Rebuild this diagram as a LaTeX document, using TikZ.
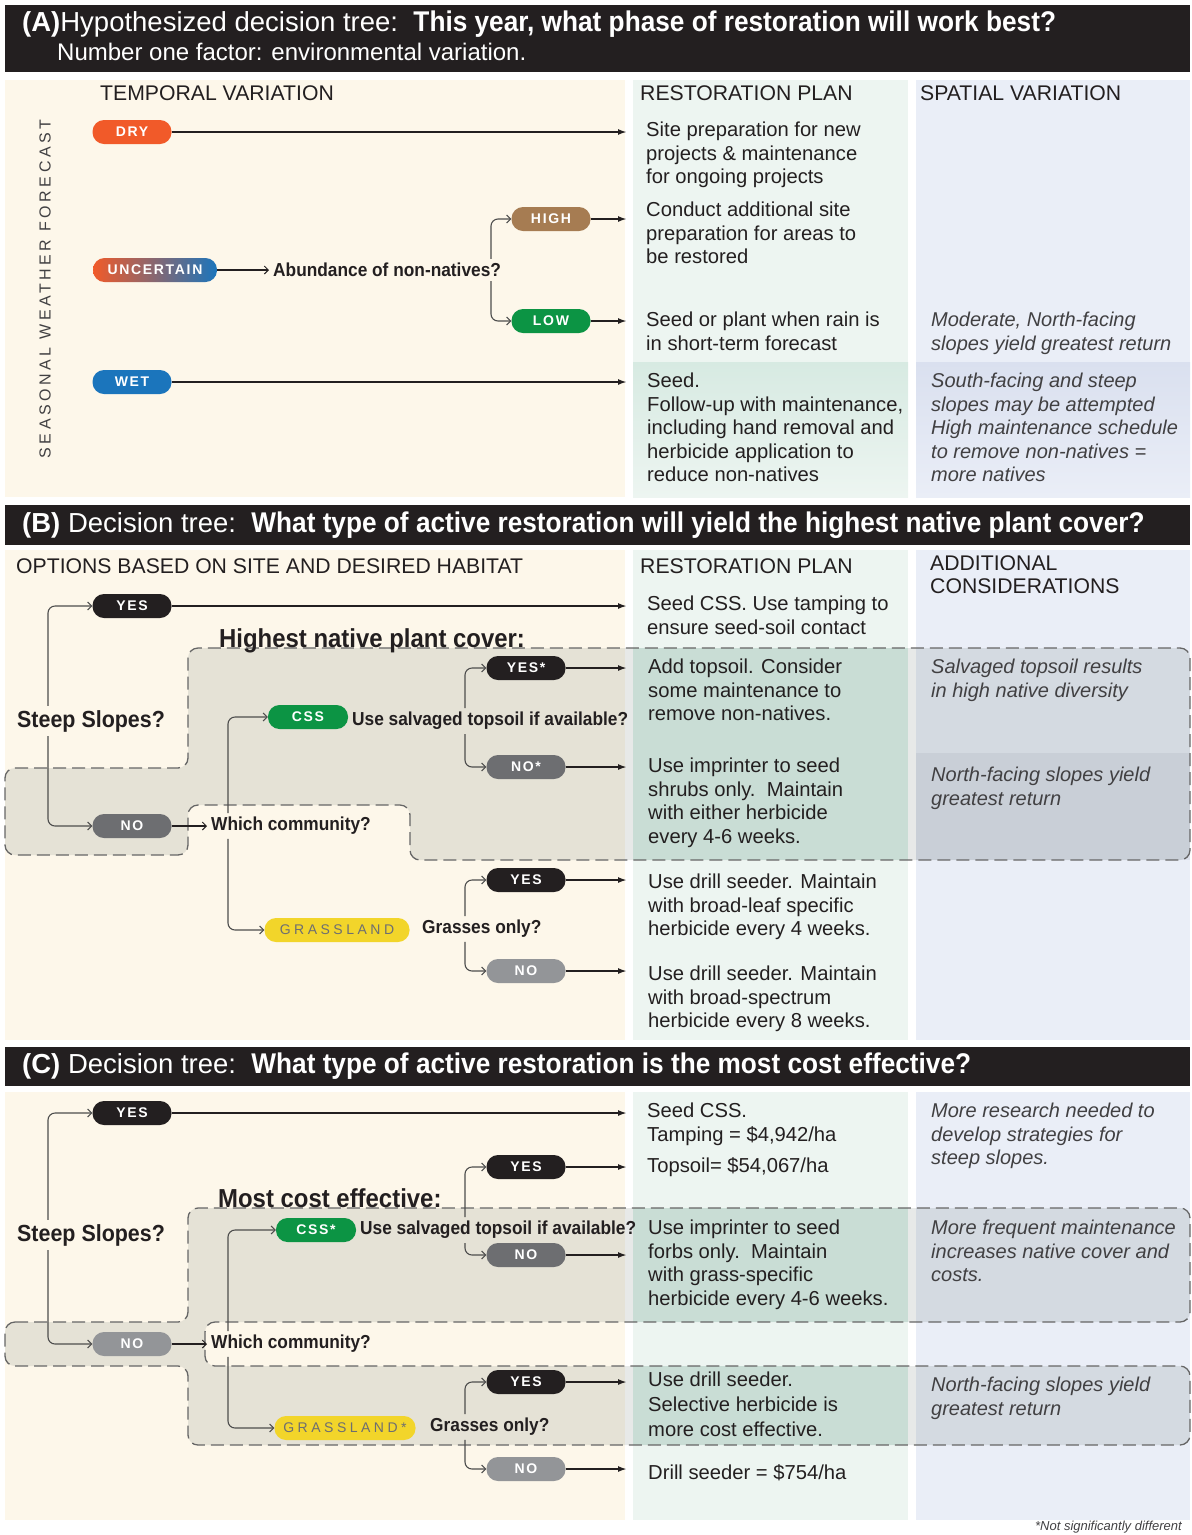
\documentclass[tikz,border=0pt]{standalone}
\usepackage{fontspec}
\setmainfont{Liberation Sans}
\newfontfamily\condfont[FakeStretch=0.92]{Liberation Sans}
\newfontfamily\pillfont[LetterSpace=12]{Liberation Sans}
\newfontfamily\grassfont[LetterSpace=25]{Liberation Sans}
\newfontfamily\spacedfont[LetterSpace=22]{Liberation Sans}
\usetikzlibrary{arrows.meta,positioning}

\definecolor{barblack}{HTML}{231F20}
\definecolor{cream}{HTML}{FDF7EA}
\definecolor{mintcol}{HTML}{EDF5F1}
\definecolor{mintdark}{HTML}{D7EAE2}
\definecolor{mintband}{HTML}{DCF1E9}
\definecolor{bluecol}{HTML}{EAEEF7}
\definecolor{bluedark}{HTML}{DAE0EF}
\definecolor{bandblue}{HTML}{DDE1EC}
\definecolor{drycol}{HTML}{F15A29}
\definecolor{wetcol}{HTML}{1B75BC}
\definecolor{highcol}{HTML}{A67C52}
\definecolor{greencol}{HTML}{0C9444}
\definecolor{darkpill}{HTML}{6D6E71}
\definecolor{lightpill}{HTML}{939598}
\definecolor{sunyellow}{HTML}{F2D52A}
\definecolor{regionfill}{HTML}{5D6B65}
\definecolor{dashgray}{HTML}{666666}
\definecolor{linegray}{HTML}{4D4D4D}
\definecolor{textgray}{HTML}{414042}

\begin{document}
\begin{tikzpicture}[
  x=1pt, y=-1pt,
  pill/.style={rectangle, rounded corners=11.5pt, minimum height=24pt,
               minimum width=79pt, inner xsep=8pt, inner ysep=0pt, text=white,
               font=\pillfont\bfseries\fontsize{14}{14}\selectfont},
  grasspill/.style={pill, fill=sunyellow, text=darkpill,
                    font=\grassfont\fontsize{14}{14}\selectfont},
  question/.style={anchor=west, inner sep=4pt, text=barblack,
                   font=\condfont\bfseries\fontsize{18.8}{20}\selectfont},
  bigquestion/.style={question, font=\condfont\bfseries\fontsize{23.3}{25}\selectfont},
  regiontitle/.style={anchor=base west, inner sep=0pt, text=barblack,
                      font=\condfont\bfseries\fontsize{26}{28}\selectfont},
  plan/.style={anchor=north west, inner sep=0pt, align=left, text=barblack,
               font=\fontsize{20.2}{23.5}\selectfont},
  consider/.style={plan, text=textgray, font=\itshape\fontsize{20}{23.5}\selectfont},
  colhead/.style={anchor=north west, inner sep=0pt, align=left, text=barblack,
                  font=\fontsize{21.2}{23.5}\selectfont},
  titletext/.style={anchor=west, inner sep=0pt, text=white,
                    font=\fontsize{27.5}{30}\selectfont},
  titlebold/.style={font=\condfont\bfseries\fontsize{28.5}{30}\selectfont},
  longarrow/.style={line width=2pt, draw=barblack, -{Latex[length=9pt,width=6pt]}},
  feed/.style={line width=2pt, draw=barblack,
               -{Straight Barb[length=4pt,width=8pt,line width=1pt]}},
  branch/.style={line width=1.1pt, draw=linegray, rounded corners=7pt,
                 -{Straight Barb[length=4pt,width=8pt,line width=1pt]}},
  region/.style={fill=regionfill, fill opacity=0.15, draw=dashgray, line width=1.3pt,
                 dash pattern=on 13pt off 6pt, rounded corners=10pt}
]
\useasboundingbox (0,0) rectangle (1192,1535);

% backgrounds
\fill[barblack] (5,5) rectangle (1190,72);
\fill[cream] (5,80) rectangle (625,497);
\fill[mintcol] (633,80) rectangle (908,497);
\fill[bluecol] (916,80) rectangle (1190,497);
\shade[top color=mintdark, bottom color=mintcol] (633,362) rectangle (908,497);
\shade[top color=bluedark, bottom color=bluecol] (916,362) rectangle (1190,497);

\fill[barblack] (5,505) rectangle (1190,545);
\fill[cream] (5,550) rectangle (625,1040);
\fill[mintcol] (633,550) rectangle (908,1040);
\fill[bluecol] (916,550) rectangle (1190,1040);
\fill[mintband] (633,648) rectangle (908,860);
\fill[bandblue] (916,753) rectangle (1190,860);

\fill[barblack] (5,1047) rectangle (1190,1086);
\fill[cream] (5,1092) rectangle (625,1520);
\fill[mintcol] (633,1092) rectangle (908,1520);
\fill[bluecol] (916,1092) rectangle (1190,1520);
\fill[mintband] (633,1208) rectangle (908,1322);
\fill[mintband] (633,1366) rectangle (908,1445);

% shaded regions
\path[region] (5,768) -- (188,768) -- (188,648) -- (1190,648) -- (1190,860)
  -- (410,860) -- (410,805) -- (188,805) -- (188,855) -- (5,855) -- cycle;
\path[region] (5,1322) -- (188,1322) -- (188,1208) -- (1190,1208) -- (1190,1322)
  -- (205,1322) -- (205,1366) -- (1190,1366) -- (1190,1445) -- (188,1445)
  -- (188,1366) -- (5,1366) -- cycle;

\coordinate (colend) at (627,0);
\coordinate (spA) at (491,0);
\coordinate (spL) at (48,0);
\coordinate (spW) at (228,0);
\coordinate (spR) at (465,0);

% (A)
\node[titletext] (titleA) at (22,24)
  {\textbf{(A)}Hypothesized decision tree:\ \ {\condfont\bfseries\fontsize{28.5}{30}\selectfont This year, what phase of restoration will work best?}};
\node[titletext, font=\fontsize{24}{26}\selectfont] (subA) at (57,52)
  {Number one factor: environmental variation.};
\node[colhead] (tempo) at (100,85) {TEMPORAL VARIATION};
\node[colhead] (planA) at (640,85) {RESTORATION PLAN};
\node[colhead] (spatial) at (920,85) {SPATIAL VARIATION};
\node[rotate=90, inner sep=0pt, text=textgray,
      font=\spacedfont\fontsize{16}{16}\selectfont] (season) at (45,289)
  {SEASONAL WEATHER FORECAST};

\node[pill, fill=drycol] (dry) at (132,132) {DRY};
\node[pill, left color=drycol, middle color=drycol!60!wetcol, right color=wetcol,
      minimum width=124pt] (unc) at (155,270) {UNCERTAIN};
\node[pill, fill=wetcol] (wet) at (132,382) {WET};
\node[pill, fill=highcol] (hi) at (551,219) {HIGH};
\node[pill, fill=greencol] (lo) at (551,321) {LOW};
\node[question] (abund) at (269,270) {Abundance of non-natives?};

\node[plan] (a1) at (646,122) {Site preparation for new\\projects \& maintenance\\for ongoing projects};
\node[plan] (a2) at (646,202) {Conduct additional site\\preparation for areas to\\be restored};
\node[plan] (a3) at (646,312) {Seed or plant when rain is\\in short-term forecast};
\node[plan] (a4) at (647,373) {Seed.\\Follow-up with maintenance,\\including hand removal and\\herbicide application to\\reduce non-natives};
\node[consider] (s1) at (931,312) {Moderate, North-facing\\slopes yield greatest return};
\node[consider] (s2) at (931,373) {South-facing and steep\\slopes may be attempted\\High maintenance schedule\\to remove non-natives =\\more natives};

\draw[longarrow] (dry.east) -- (dry.east -| colend);
\draw[longarrow] (wet.east) -- (wet.east -| colend);
\draw[longarrow] (hi.east) -- (hi.east -| colend);
\draw[longarrow] (lo.east) -- (lo.east -| colend);
\draw[feed] (unc.east) -- (abund.west);
\draw[branch] (abund.north -| spA) |- (hi.west);
\draw[branch] (abund.south -| spA) |- (lo.west);

% (B)
\node[titletext] (titleB) at (22,525)
  {\textbf{(B)} Decision tree:\ \ {\condfont\bfseries\fontsize{28.5}{30}\selectfont What type of active restoration will yield the highest native plant cover?}};
\node[colhead] (optB) at (16,558) {OPTIONS BASED ON SITE AND DESIRED HABITAT};
\node[colhead] (planB) at (640,558) {RESTORATION PLAN};
\node[colhead] (addB) at (930,555) {ADDITIONAL\\CONSIDERATIONS};
\node[regiontitle] (highB) at (219,647) {Highest native plant cover:};

\node[bigquestion] (steepB) at (13,721) {Steep Slopes?};
\node[pill, fill=barblack] (yesB) at (132,606) {YES};
\node[pill, fill=darkpill] (noB) at (132,826) {NO};
\node[question] (whichB) at (207,826) {Which community?};
\node[pill, fill=greencol, minimum width=80pt] (cssB) at (308,717) {CSS};
\node[grasspill, minimum width=145pt] (grassB) at (337,930) {GRASSLAND};
\node[question, inner xsep=1pt] (topsB) at (351,721) {Use salvaged topsoil if available?};
\node[question] (grassesB) at (418,929) {Grasses only?};
\node[pill, fill=barblack] (yesSB) at (526,668) {YES*};
\node[pill, fill=darkpill] (noSB) at (526,767) {NO*};
\node[pill, fill=barblack] (yesGB) at (526,880) {YES};
\node[pill, fill=lightpill] (noGB) at (526,971) {NO};

\node[plan] (b1) at (647,596) {Seed CSS. Use tamping to\\ensure seed-soil contact};
\node[plan] (b2) at (648,659) {Add topsoil. Consider\\some maintenance to\\remove non-natives.};
\node[plan] (b3) at (648,758) {Use imprinter to seed\\shrubs only.\ \ Maintain\\with either herbicide\\every 4-6 weeks.};
\node[plan] (b4) at (648,874) {Use drill seeder. Maintain\\with broad-leaf specific\\herbicide every 4 weeks.};
\node[plan] (b5) at (648,966) {Use drill seeder. Maintain\\with broad-spectrum\\herbicide every 8 weeks.};
\node[consider] (c1) at (931,659) {Salvaged topsoil results\\in high native diversity};
\node[consider] (c2) at (931,767) {North-facing slopes yield\\greatest return};

\draw[branch] (steepB.north -| spL) |- (yesB.west);
\draw[branch] (steepB.south -| spL) |- (noB.west);
\draw[feed] (noB.east) -- (whichB.west);
\draw[branch] (whichB.north -| spW) |- (cssB.west);
\draw[branch] (whichB.south -| spW) |- (grassB.west);
\draw[branch] (topsB.north -| spR) |- (yesSB.west);
\draw[branch] (topsB.south -| spR) |- (noSB.west);
\draw[branch] (grassesB.north -| spR) |- (yesGB.west);
\draw[branch] (grassesB.south -| spR) |- (noGB.west);
\draw[longarrow] (yesB.east) -- (yesB.east -| colend);
\draw[longarrow] (yesSB.east) -- (yesSB.east -| colend);
\draw[longarrow] (noSB.east) -- (noSB.east -| colend);
\draw[longarrow] (yesGB.east) -- (yesGB.east -| colend);
\draw[longarrow] (noGB.east) -- (noGB.east -| colend);

% (C)
\node[titletext] (titleC) at (22,1066)
  {\textbf{(C)} Decision tree:\ \ {\condfont\bfseries\fontsize{28.5}{30}\selectfont What type of active restoration is the most cost effective?}};
\node[regiontitle] (mostC) at (218,1207) {Most cost effective:};

\node[bigquestion] (steepC) at (13,1235) {Steep Slopes?};
\node[pill, fill=barblack] (yesC) at (132,1113) {YES};
\node[pill, fill=lightpill] (noC) at (132,1344) {NO};
\node[question] (whichC) at (207,1344) {Which community?};
\node[pill, fill=greencol, minimum width=80pt] (cssC) at (316,1230) {CSS*};
\node[grasspill, minimum width=141pt] (grassC) at (345,1428) {GRASSLAND*};
\node[question, inner xsep=1pt] (topsC) at (359,1230) {Use salvaged topsoil if available?};
\node[question] (grassesC) at (426,1427) {Grasses only?};
\node[pill, fill=barblack] (yesTC) at (526,1167) {YES};
\node[pill, fill=darkpill] (noTC) at (526,1255) {NO};
\node[pill, fill=barblack] (yesHC) at (526,1382) {YES};
\node[pill, fill=lightpill] (noHC) at (526,1469) {NO};

\node[plan] (d1) at (647,1103) {Seed CSS.\\Tamping = \$4,942/ha};
\node[plan] (d2) at (647,1157) {Topsoil= \$54,067/ha};
\node[plan] (d3) at (648,1220) {Use imprinter to seed\\forbs only.\ \ Maintain\\with grass-specific\\herbicide every 4-6 weeks.};
\node[plan, font=\fontsize{20.2}{25}\selectfont] (d4) at (648,1372) {Use drill seeder.\\Selective herbicide is\\more cost effective.};
\node[plan] (d5) at (648,1464) {Drill seeder = \$754/ha};
\node[consider] (e1) at (931,1103) {More research needed to\\develop strategies for\\steep slopes.};
\node[consider] (e2) at (931,1220) {More frequent maintenance\\increases native cover and\\costs.};
\node[consider] (e3) at (931,1377) {North-facing slopes yield\\greatest return};
\node[anchor=north east, inner sep=0pt, text=textgray,
      font=\itshape\fontsize{13}{15}\selectfont] (note) at (1182,1521)
  {*Not significantly different};

\draw[branch] (steepC.north -| spL) |- (yesC.west);
\draw[branch] (steepC.south -| spL) |- (noC.west);
\draw[feed] (noC.east) -- (whichC.west);
\draw[branch] (whichC.north -| spW) |- (cssC.west);
\draw[branch] (whichC.south -| spW) |- (grassC.west);
\draw[branch] (topsC.north -| spR) |- (yesTC.west);
\draw[branch] (topsC.south -| spR) |- (noTC.west);
\draw[branch] (grassesC.north -| spR) |- (yesHC.west);
\draw[branch] (grassesC.south -| spR) |- (noHC.west);
\draw[longarrow] (yesC.east) -- (yesC.east -| colend);
\draw[longarrow] (yesTC.east) -- (yesTC.east -| colend);
\draw[longarrow] (noTC.east) -- (noTC.east -| colend);
\draw[longarrow] (yesHC.east) -- (yesHC.east -| colend);
\draw[longarrow] (noHC.east) -- (noHC.east -| colend);

\end{tikzpicture}
\end{document}
